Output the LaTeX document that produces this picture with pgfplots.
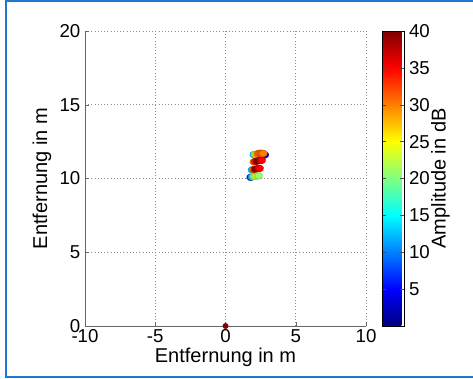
\documentclass[border=0pt]{standalone}
\usepackage{pgfplots}
\pgfplotsset{compat=1.18}
\usepackage{fontspec}
\setmainfont{Liberation Sans}
\definecolor{frameblue}{RGB}{30,120,210}
\begin{document}
\begin{tikzpicture}[x=0.75pt,y=0.75pt]
\useasboundingbox (0,0) rectangle (473,378);
\draw[frameblue,line width=1.5pt] (5.5,0.5) -- (5.5,377) ;
\draw[frameblue,line width=1.5pt] (5,377) -- (473,377);
\draw[frameblue,line width=1.5pt] (5,1.2) -- (473,1.2);
\begin{axis}[
  at={(63.75pt,39pt)}, anchor=south west,
  scale only axis,
  width=210.75pt, height=221.25pt,
  xmin=-10, xmax=10, ymin=0, ymax=20,
  xtick={-10,-5,0,5,10}, ytick={0,5,10,15,20},
  axis x line=bottom, axis y line=left,
  axis line style={-, black!60, line width=0.5pt},
  grid=major,
  major grid style={dotted, black!45, line width=0.5pt},
  tick align=inside, major tick length=3pt,
  tick style={black!60},
  font=\fontsize{14pt}{16pt}\selectfont,
  /pgf/number format/assume math mode=true,
  xlabel={Entfernung in m}, ylabel={Entfernung in m},
  label style={font=\fontsize{15pt}{17pt}\selectfont},
  xlabel style={at={(axis description cs:0.5,-0.105)}, anchor=center},
  ylabel style={at={(axis description cs:-0.153,0.5)}, anchor=center},
  xticklabel style={yshift=1pt},
  colormap/jet,
  point meta min=0, point meta max=40,
  colorbar right,
  colorbar style={
    at={(parent axis.north east)}, anchor=north west, xshift=3.75pt,
    scale only axis, width=16.5pt, height=221.25pt,
    ytick={5,10,...,40},
    yticklabel pos=right,
    ylabel={Amplitude in dB},
    ylabel style={at={(axis description cs:2.64,0.5)}, anchor=center, font=\fontsize{15pt}{17pt}\selectfont},
    axis line style={black, line width=0.4pt},
    tick style={black!70},
    major tick length=3pt,
    font=\fontsize{14pt}{16pt}\selectfont,
    /pgf/number format/assume math mode=true,
  },
]
\addplot[scatter, only marks, scatter src=explicit, mark=*, mark size=2.9pt,
  every mark/.append style={yscale=0.85, rotate=15}]
 table[meta=a] {
x y a
2.80 11.60 3
2.0 11.62 13
2.1 11.64 22
2.2 11.66 27
2.3 11.68 30
2.4 11.70 31
2.5 11.72 32
2.6 11.72 31
2.7 11.70 30
2.0 11.12 30
2.1 11.15 34
2.2 11.17 37
2.3 11.19 39
2.4 11.21 40
2.5 11.22 38
2.58 11.23 35
1.87 10.58 13
1.97 10.60 30
2.07 10.62 36
2.17 10.64 39
2.27 10.66 39
2.37 10.68 37
2.43 10.68 35
1.78 10.08 6
1.88 10.10 12
1.98 10.12 18
2.08 10.14 22
2.18 10.16 24
2.28 10.17 23
2.36 10.18 21
};
\addplot[only marks, mark=*, mark size=2pt, color={rgb,255:red,128;green,0;blue,0}, forget plot] coordinates {(0,0)};
\end{axis}
\end{tikzpicture}
\end{document}
